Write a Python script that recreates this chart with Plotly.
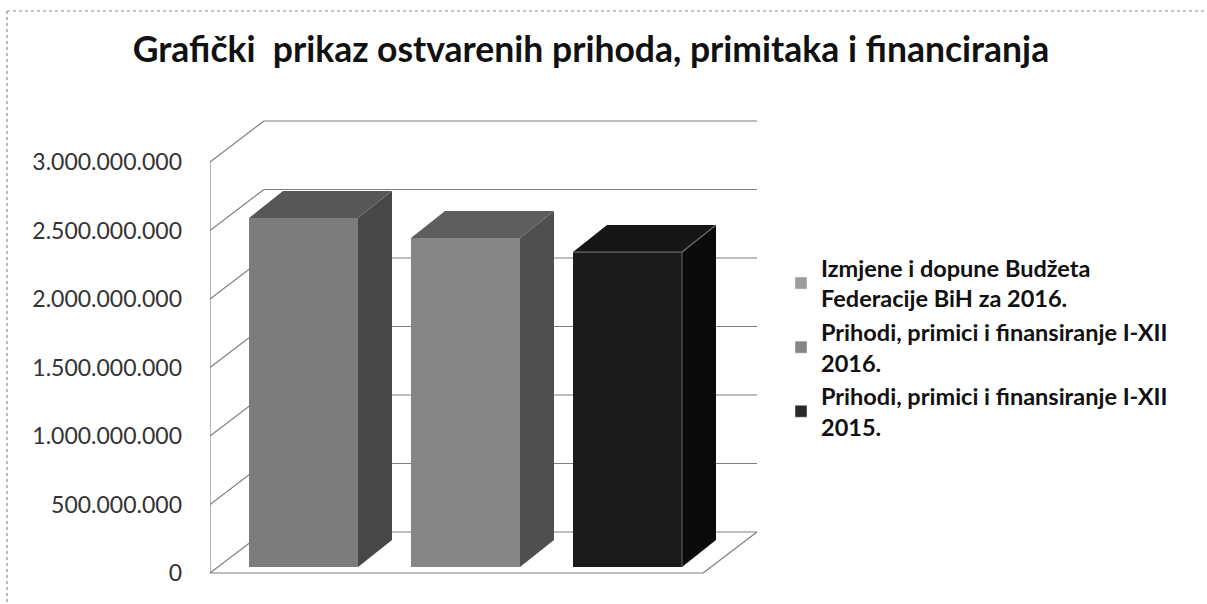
import plotly.graph_objects as go

# ---------------- data ----------------
series_names = [
    "Izmjene i dopune Budžeta<br>Federacije BiH za 2016.",
    "Prihodi, primici i finansiranje I-XII<br>2016.",
    "Prihodi, primici i finansiranje I-XII<br>2015.",
]
series_values = [2_547_000_000, 2_401_000_000, 2_299_000_000]
tick_values = [0, 500_000_000, 1_000_000_000, 1_500_000_000,
               2_000_000_000, 2_500_000_000, 3_000_000_000]
tick_labels = ["0", "500.000.000", "1.000.000.000", "1.500.000.000",
               "2.000.000.000", "2.500.000.000", "3.000.000.000"]
title_text = "Grafički  prikaz ostvarenih prihoda, primitaka i financiranja"

# ---------------- styles / geometry ----------------
front_cols = ["#7c7c7c", "#868686", "#1b1b1b"]
side_cols = ["#474747", "#4f4f4f", "#0a0a0a"]
top_cols = ["#575757", "#5e5e5e", "#161616"]
legend_cols = ["#9c9c9c", "#858585", "#2a2a2a"]
grid_col = "#808080"

W, H = 1207, 604
PL, PR, PT, PB = 210, 775, 105, 590        # plot area in pixels
X0PX, XU = 295.5, 162.0                     # px of x=0, px per category
Y0PX, YU = 573.0, 137.0                     # px of value 0, px per 1e9
G = 1e9

xr = [(PL - X0PX) / XU, (PR - X0PX) / XU]
yr = [(Y0PX - PB) / YU * G, (Y0PX - PT) / YU * G]

XL = (210 - X0PX) / XU      # front-left wall edge
XR = (703 - X0PX) / XU      # front-right floor edge
DX, DY = 54 / XU, 41 / YU * G          # wall/floor depth
BX, BY = 8 / XU, 6 / YU * G            # bar plane offset
BW = 109 / XU                          # bar front width
BDX, BDY = 34 / XU, 27 / YU * G        # bar depth

fig = go.Figure()

shapes = []
line_style = dict(color=grid_col, width=1.2)
for v in tick_values:
    shapes.append(dict(type="line", xref="x", yref="y", layer="below",
                       x0=XL, y0=v, x1=XL + DX, y1=v + DY, line=line_style))
    shapes.append(dict(type="line", xref="x", yref="y", layer="below",
                       x0=XL + DX, y0=v + DY, x1=XR + DX, y1=v + DY, line=line_style))
shapes.append(dict(type="line", xref="x", yref="y", layer="below",
                   x0=XL, y0=tick_values[0], x1=XL, y1=tick_values[-1], line=line_style))
shapes.append(dict(type="line", xref="x", yref="y", layer="below",
                   x0=XL, y0=0, x1=XR, y1=0, line=line_style))
shapes.append(dict(type="line", xref="x", yref="y", layer="below",
                   x0=XR, y0=0, x1=XR + DX, y1=DY, line=line_style))


def px_to_paper_x(px):
    return (px - PL) / (PR - PL)


def py_to_paper_y(py):
    return (PB - py) / (PB - PT)


border = dict(color="#8a8a8a", width=1.2, dash="dot")
shapes.append(dict(type="line", xref="paper", yref="paper",
                   x0=px_to_paper_x(7), y0=py_to_paper_y(11),
                   x1=px_to_paper_x(1207), y1=py_to_paper_y(11), line=border))
shapes.append(dict(type="line", xref="paper", yref="paper",
                   x0=px_to_paper_x(7), y0=py_to_paper_y(11),
                   x1=px_to_paper_x(7), y1=py_to_paper_y(604), line=border))

# bars: front faces
for i, (name, v) in enumerate(zip(series_names, series_values)):
    fig.add_trace(go.Bar(
        x=[i + BX], y=[v], base=[BY], width=[BW],
        name=name, legendgroup=str(i),
        marker=dict(color=front_cols[i], line=dict(width=0)),
        hoverinfo="skip", showlegend=False,
    ))

# side and top faces
for i, v in enumerate(series_values):
    xl = i + BX - BW / 2
    xrr = i + BX + BW / 2
    fig.add_trace(go.Scatter(
        x=[xrr, xrr + BDX, xrr + BDX, xrr, xrr],
        y=[BY, BY + BDY, BY + v + BDY, BY + v, BY],
        fill="toself", fillcolor=side_cols[i], mode="lines",
        line=dict(width=0, color=side_cols[i]), showlegend=False, hoverinfo="skip"))
    fig.add_trace(go.Scatter(
        x=[xl, xrr, xrr + BDX, xl + BDX, xl],
        y=[BY + v, BY + v, BY + v + BDY, BY + v + BDY, BY + v],
        fill="toself", fillcolor=top_cols[i], mode="lines",
        line=dict(width=0, color=top_cols[i]), showlegend=False, hoverinfo="skip"))

# light edge on the dark bar (top front edge and front right edge)
edge_i = 2
ev = series_values[edge_i]
exl = edge_i + BX - BW / 2
exr = edge_i + BX + BW / 2
fig.add_trace(go.Scatter(
    x=[exl, exr, exr + BDX], y=[BY + ev, BY + ev, BY + ev + BDY],
    mode="lines", line=dict(color="#6a6a6a", width=1.2),
    showlegend=False, hoverinfo="skip"))
fig.add_trace(go.Scatter(
    x=[exr, exr], y=[BY, BY + ev],
    mode="lines", line=dict(color="#5a5a5a", width=1.2),
    showlegend=False, hoverinfo="skip"))

# legend entries
for i, name in enumerate(series_names):
    fig.add_trace(go.Bar(
        x=[None], y=[None], name=name, legendgroup=str(i),
        marker=dict(color=legend_cols[i]), showlegend=True))

fig.update_layout(
    width=W, height=H,
    margin=dict(l=PL, r=W - PR, t=PT, b=H - PB, autoexpand=False),
    paper_bgcolor="white", plot_bgcolor="white",
    barmode="overlay",
    title=dict(text=title_text, xref="container", x=591 / W, xanchor="center",
               y=1 - 50 / H, yanchor="middle",
               font=dict(family="Lato", size=35.5, color="#111111", weight="bold")),
    xaxis=dict(range=xr, visible=False, fixedrange=True),
    yaxis=dict(range=yr, tickvals=tick_values, ticktext=tick_labels,
               showgrid=False, zeroline=False, showline=False, ticks="",
               ticklabelstandoff=27, fixedrange=True,
               tickfont=dict(family="Lato", size=23, color="#333333")),
    legend=dict(x=px_to_paper_x(781), xanchor="left",
                y=py_to_paper_y(246), yanchor="top",
                font=dict(family="Lato", size=23.5, color="#111111", weight="bold"),
                tracegroupgap=0, itemwidth=30,
                bgcolor="rgba(0,0,0,0)"),
    shapes=shapes,
    showlegend=True,
)

fig.write_html("out.html",
               config={"displayModeBar": False},
               post_script="document.body.style.margin='0';document.body.style.overflow='hidden';")
